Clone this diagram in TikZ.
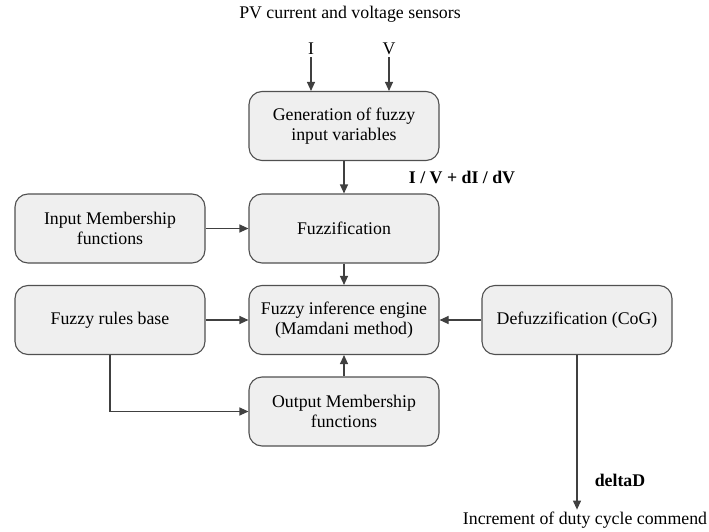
\documentclass[tikz,border=0pt]{standalone}
\usepackage{fontspec}
\setmainfont{Liberation Serif}
\usepackage{xcolor}
\usetikzlibrary{arrows.meta}

\definecolor{boxfill}{HTML}{EFEFEF}
\definecolor{boxline}{HTML}{505050}
\definecolor{wireline}{HTML}{404040}

\begin{document}
\begin{tikzpicture}[x=1pt, y=-1pt,
    block/.style={draw=boxline, line width=1.1pt, fill=boxfill, rounded corners=13pt,
      minimum width=190pt, minimum height=69pt, align=center, inner sep=2pt,
      font=\fontsize{17.8}{20.5}\selectfont},
    txt/.style={inner sep=2pt, font=\fontsize{17.8}{20.5}\selectfont},
    wire/.style={draw=wireline, line width=1.1pt, -{Triangle[length=9pt, width=8pt]}}]
    \useasboundingbox (0,0) rectangle (709,532);

    % blocks
    \node[block] (gen)    at (344,126)   {Generation of fuzzy\\input variables};
    \node[block] (fuzz)   at (344,228.5) {Fuzzification};
    \node[block] (inmf)   at (110,228.5) {Input Membership\\functions};
    \node[block] (rules)  at (110,320)   {Fuzzy rules base};
    \node[block] (inf)    at (344,320)   {Fuzzy inference engine\\(Mamdani method)};
    \node[block] (outmf)  at (344,411.5) {Output Membership\\functions};
    \node[block] (defuzz) at (577,320)   {Defuzzification (CoG)};

    % texts
    \node[txt] (sens) at (350,14)  {PV current and voltage sensors};
    \node[txt] (cur)  at (311,49)  {I};
    \node[txt] (volt) at (389,49)  {V};
    \node[txt, font=\fontsize{17.8}{20.5}\selectfont\bfseries] (ivlab) at (462,177) {I / V + dI / dV};
    \node[txt, font=\fontsize{17.8}{20.5}\selectfont\bfseries] (dlab)  at (620,480) {deltaD};
    \node[txt] (incr) at (585,520) {Increment of duty cycle commend};

    % connectors
    \draw[wire] (cur) -- (gen.north -| cur);
    \draw[wire] (volt) -- (gen.north -| volt);
    \draw[wire] (gen) -- (fuzz);
    \draw[wire] (inmf) -- (fuzz);
    \draw[wire] (fuzz) -- (inf);
    \draw[wire] (rules) -- (inf);
    \draw[wire] (defuzz) -- (inf);
    \draw[wire] (outmf) -- (inf);
    \draw[wire] (rules.south) |- (outmf.west);
    \draw[wire] (defuzz.south) -- (incr.north -| defuzz.south);
\end{tikzpicture}
\end{document}
